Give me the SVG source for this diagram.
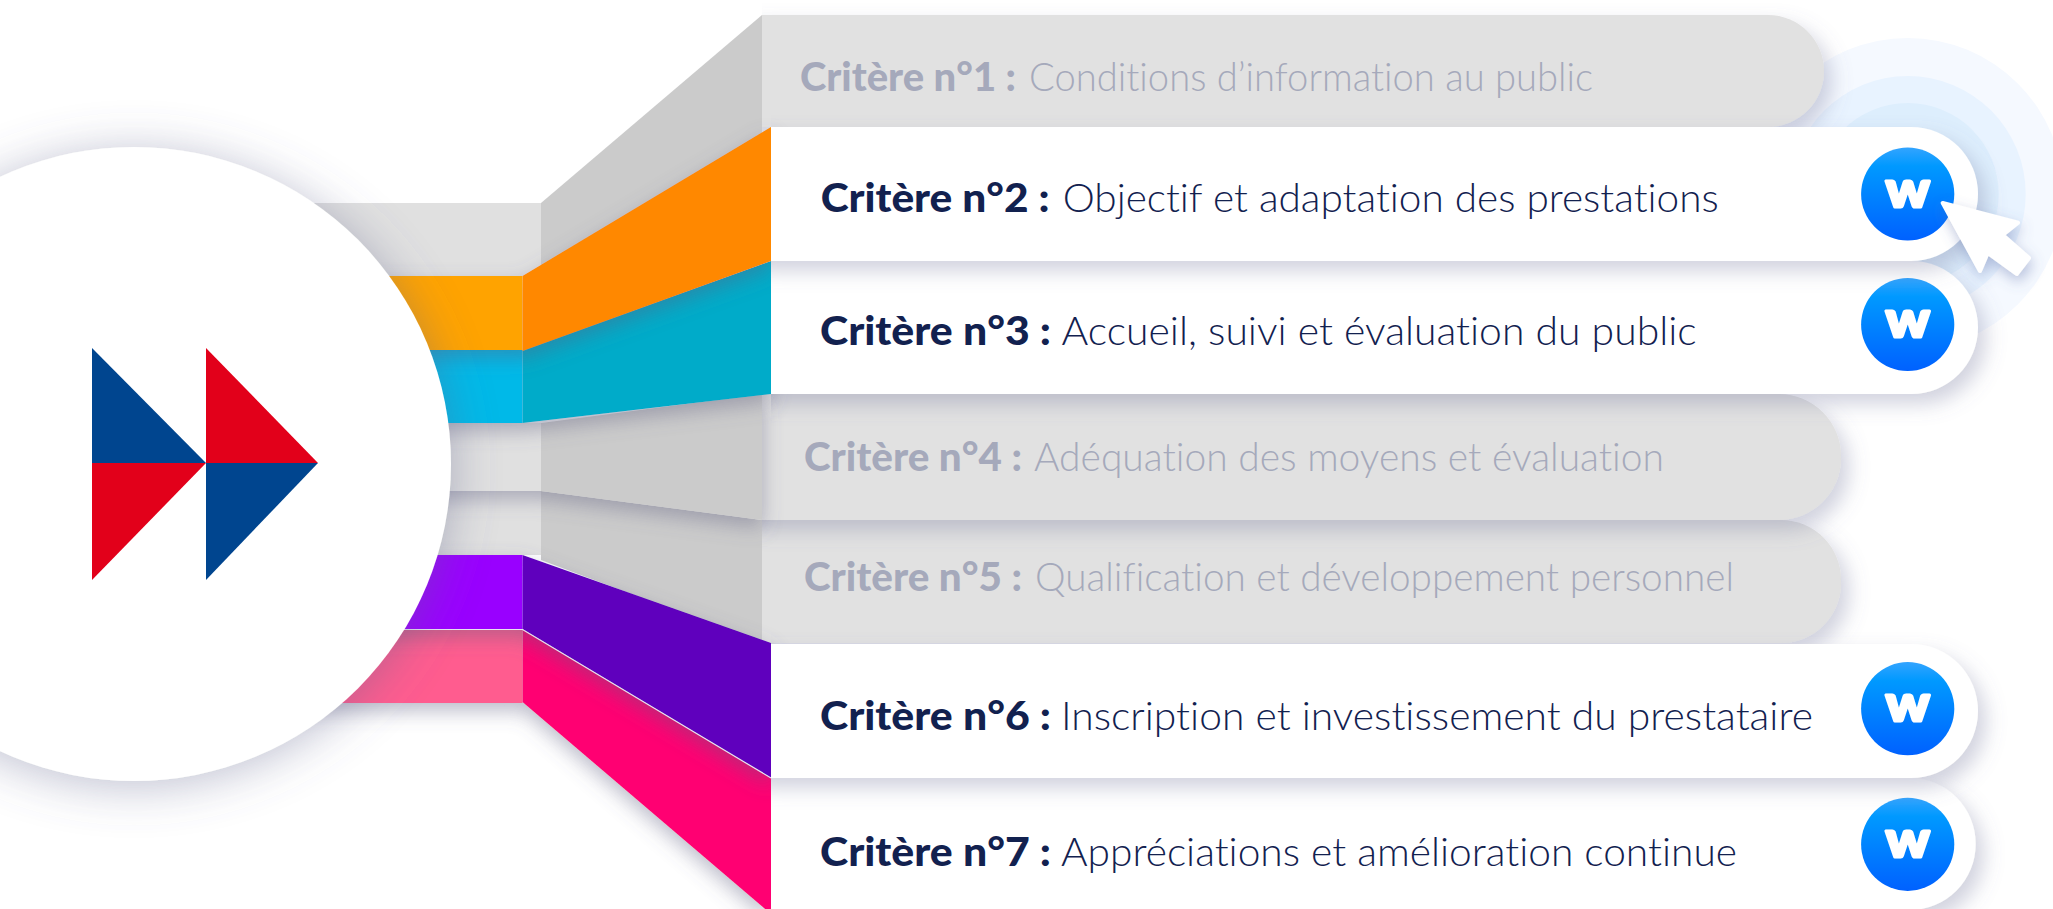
<svg xmlns="http://www.w3.org/2000/svg" width="2053" height="909" viewBox="0 0 2053 909">
<style>
text{font-variant-ligatures:none}
.b{font-family:"Lato","Noto Sans",sans-serif;font-weight:900;font-size:40px}
.r{font-family:"Lato","Noto Sans",sans-serif;font-weight:300;font-size:40px}
.on{fill:#12214f}
.off{fill:#a5a9bb}
.gp{fill:#e1e1e1;filter:url(#sh);clip-path:url(#cg)}
.wp{fill:#fff;filter:url(#sh);clip-path:url(#cw)}
.w{font-family:"Lato","Inter",sans-serif;font-weight:900;font-size:50px;fill:#fff;stroke:#fff;stroke-width:3;stroke-linejoin:round;text-anchor:middle}
.gs{fill:#e0e0e0}
.gw{fill:#cbcbcb}
</style>
<defs>
<clipPath id="cg"><rect x="762" y="0" width="1291" height="909"/></clipPath>
<clipPath id="cw"><rect x="771" y="0" width="1282" height="909"/></clipPath>
<filter id="sh" x="-10%" y="-40%" width="120%" height="190%"><feDropShadow dx="8" dy="10" stdDeviation="10" flood-color="#6f7198" flood-opacity=".32"/></filter>
<filter id="bs" x="-20%" y="-30%" width="140%" height="170%"><feDropShadow dx="0" dy="8" stdDeviation="10" flood-color="#5d5f80" flood-opacity=".42"/></filter>
<filter id="cs" x="-30%" y="-30%" width="160%" height="160%"><feDropShadow dx="0" dy="5" stdDeviation="24" flood-color="#64668f" flood-opacity=".42"/></filter>
<filter id="cu" x="-40%" y="-40%" width="180%" height="180%"><feDropShadow dx="2" dy="6" stdDeviation="7" flood-color="#5a6aa8" flood-opacity=".4"/></filter>
<linearGradient id="bg" x1="0" y1="0" x2="0" y2="1"><stop offset="0" stop-color="#33a4ff"/><stop offset=".2" stop-color="#0099ff"/><stop offset="1" stop-color="#0061ff"/></linearGradient>
</defs>
<rect width="2053" height="909" fill="#fff"/>
<g id="halo">
<circle cx="1907.7" cy="194" r="156" fill="#f5f9ff"/>
<circle cx="1907.7" cy="194" r="118" fill="#e8f3ff"/>
<circle cx="1907.7" cy="194" r="91" fill="#ddeefd"/>
</g>
<g id="critere-1"><rect class="gp" x="700" y="15" width="1124" height="112" rx="56"/><text x="800" y="91" class="b off" textLength="216" lengthAdjust="spacingAndGlyphs">Critère n°1 :</text><text x="1029" y="91" class="r off" textLength="564" lengthAdjust="spacingAndGlyphs">Conditions d’information au public</text></g>
<g id="critere-5"><rect class="gp" x="700" y="520" width="1141" height="123" rx="60"/><text x="804" y="590.500" class="b off" textLength="218" lengthAdjust="spacingAndGlyphs">Critère n°5 :</text><text x="1035" y="590.500" class="r off" textLength="699" lengthAdjust="spacingAndGlyphs">Qualification et développement personnel</text></g>
<g id="critere-4"><rect class="gp" x="700" y="394" width="1141" height="126" rx="62"/><text x="804" y="470.500" class="b off" textLength="218" lengthAdjust="spacingAndGlyphs">Critère n°4 :</text><text x="1034" y="470.500" class="r off" textLength="630" lengthAdjust="spacingAndGlyphs">Adéquation des moyens et évaluation</text></g>
<g id="connectors">
<g><rect class="gs" x="250" y="203" width="291" height="73"/><polygon class="gw" points="541,203 762,15 762,140 541,276"/></g>
<g><rect class="gs" x="250" y="491" width="291" height="64"/><polygon class="gw" points="541,491 762,520 762,643 541,560"/></g>
<g filter="url(#bs)"><rect class="gs" x="250" y="423" width="291" height="68"/><polygon class="gw" points="541,423 762,394 762,520 541,491"/></g>
<g filter="url(#bs)"><polygon fill="#ff0072" points="522.5,629 771,778 771,914 522.5,702"/><rect fill="#ff5c8f" x="250" y="629" width="272.500" height="74"/></g>
<g filter="url(#bs)"><polygon fill="#5e00bd" points="522.5,555 771,643 771,778 522.5,629"/><rect fill="#9900ff" x="250" y="555" width="272.500" height="74"/></g>
<polyline points="250,629.500 522.500,629.500 771,778" fill="none" stroke="#e8e4ee" stroke-width="1.200"/>
<g filter="url(#bs)"><polygon fill="#00abc9" points="522.5,350 771,261 771,394 522.5,423"/><rect fill="#00b9e8" x="250" y="350" width="272.500" height="73"/></g>
<g filter="url(#bs)"><polygon fill="#ff8800" points="522.5,276 771,127 771,261 522.5,351"/><rect fill="#ffa300" x="250" y="276" width="272.500" height="74"/></g>
</g>
<g id="critere-7"><rect class="wp" x="700" y="778" width="1275.700" height="132" rx="66"/><circle cx="1907.700" cy="844.300" r="46.600" fill="url(#bg)"/><text x="1907.700" y="856.800" class="w" textLength="44" lengthAdjust="spacingAndGlyphs">w</text><text x="820" y="866" class="b on" textLength="231" lengthAdjust="spacingAndGlyphs">Critère n°7 :</text><text x="1061" y="866" class="r on" textLength="676" lengthAdjust="spacingAndGlyphs">Appréciations et amélioration continue</text></g>
<g id="critere-6"><rect class="wp" x="700" y="644" width="1278" height="134" rx="67"/><circle cx="1907.700" cy="708.700" r="46.600" fill="url(#bg)"/><text x="1907.700" y="721.200" class="w" textLength="44" lengthAdjust="spacingAndGlyphs">w</text><text x="820" y="730" class="b on" textLength="231" lengthAdjust="spacingAndGlyphs">Critère n°6 :</text><text x="1061" y="730" class="r on" textLength="752" lengthAdjust="spacingAndGlyphs">Inscription et investissement du prestataire</text></g>
<g id="critere-3"><rect class="wp" x="700" y="261" width="1278" height="133" rx="66.500"/><circle cx="1907.700" cy="324.500" r="46.600" fill="url(#bg)"/><text x="1907.700" y="337" class="w" textLength="44" lengthAdjust="spacingAndGlyphs">w</text><text x="820" y="345" class="b on" textLength="231" lengthAdjust="spacingAndGlyphs">Critère n°3 :</text><text x="1061.600" y="345" class="r on" textLength="635" lengthAdjust="spacingAndGlyphs">Accueil, suivi et évaluation du public</text></g>
<g id="critere-2"><rect class="wp" x="700" y="127" width="1278" height="134" rx="67"/><circle cx="1907.700" cy="194" r="46.600" fill="url(#bg)"/><text x="1907.700" y="206.500" class="w" textLength="44" lengthAdjust="spacingAndGlyphs">w</text><text x="820.700" y="211.500" class="b on" textLength="229" lengthAdjust="spacingAndGlyphs">Critère n°2 :</text><text x="1062.700" y="211.500" class="r on" textLength="656" lengthAdjust="spacingAndGlyphs">Objectif et adaptation des prestations</text></g>
<g id="cursor"><polygon points="1942.700,203 2018,222.700 2002.700,235 2029,258 2016.700,274 1987.700,253 1980,271" fill="#fff" stroke="#fff" stroke-width="4" stroke-linejoin="round" filter="url(#cu)"/></g>
<g id="logo">
<circle cx="134" cy="464" r="317" fill="#fff" filter="url(#cs)"/>
<polygon points="92,348 206,463 92,463" fill="#00458f"/>
<polygon points="92,463 206,463 92,580" fill="#e2001a"/>
<polygon points="206,348 318,463 206,463" fill="#e2001a"/>
<polygon points="206,463 318,463 206,580" fill="#00458f"/>
</g>
</svg>
